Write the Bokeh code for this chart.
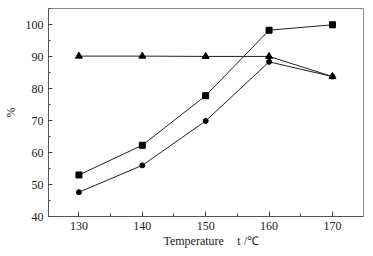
from bokeh.plotting import figure
from bokeh.embed import file_html
from bokeh.resources import INLINE
from bokeh.models import FixedTicker, LinearAxis, Range1d

temps = [130, 140, 150, 160, 170]
series_square = [53.0, 62.3, 77.8, 98.3, 100.0]
series_circle = [47.6, 56.0, 69.9, 88.4, 83.8]
series_triangle = [90.2, 90.2, 90.1, 90.1, 83.8]
x_ticks = [130, 140, 150, 160, 170]
x_minor = [125, 135, 145, 155, 165, 175]
y_ticks = [40, 50, 60, 70, 80, 90, 100]
y_minor = [45, 55, 65, 75, 85, 95, 105]
x_title_parts = ["Temperature", "t /℃"]
x_title_pos = [148.1, 156.7]
y_title = "%"

FONT = "Liberation Serif"
TXT = "#222222"

p = figure(width=373, height=256, output_backend="svg", toolbar_location=None,
           x_range=Range1d(125.2, 174.9), y_range=Range1d(40, 105.1),
           min_border_left=48, min_border_right=10, min_border_top=8, min_border_bottom=40)
p.xgrid.visible = False
p.ygrid.visible = False
p.outline_line_color = "#8a8a8a"
p.outline_line_width = 1
p.background_fill_color = "white"
p.border_fill_color = "white"

for ax in (p.xaxis[0], p.yaxis[0]):
    ax.axis_line_color = "#555555"
    ax.major_tick_line_color = "#444444"
    ax.minor_tick_line_color = "#444444"
    ax.major_tick_out = 0
    ax.minor_tick_out = 0
    ax.major_label_text_font = FONT
    ax.major_label_text_font_size = "12px"
    ax.major_label_text_color = TXT

p.xaxis.ticker = FixedTicker(ticks=x_ticks, minor_ticks=x_minor)
p.yaxis.ticker = FixedTicker(ticks=y_ticks, minor_ticks=y_minor)
p.xaxis.major_tick_in = 5
p.xaxis.minor_tick_in = 3
p.yaxis.major_tick_in = 4
p.yaxis.minor_tick_in = 2
p.xaxis.major_label_standoff = 5
p.yaxis.major_label_standoff = 5

p.yaxis.axis_label = y_title
p.yaxis.axis_label_text_font = FONT
p.yaxis.axis_label_text_font_style = "normal"
p.yaxis.axis_label_text_font_size = "12px"
p.yaxis.axis_label_text_color = TXT
p.yaxis.axis_label_standoff = 5

# x title drawn as tick labels of an extra, line-less axis below the main one
title_axis = LinearAxis(ticker=FixedTicker(ticks=x_title_pos, minor_ticks=[]),
                        major_label_overrides=dict(zip(x_title_pos, x_title_parts)),
                        axis_line_color=None, major_tick_line_color=None,
                        minor_tick_line_color=None, major_tick_in=0, major_tick_out=0,
                        major_label_standoff=1, major_label_text_font=FONT,
                        major_label_text_font_size="12px", major_label_text_color=TXT)
p.add_layout(title_axis, "below")

lc = "#222222"
p.line(temps, series_square, line_color=lc, line_width=1)
p.scatter(temps, series_square, marker="square", size=6, color="black")
p.line(temps, series_circle, line_color=lc, line_width=1)
p.scatter(temps, series_circle, marker="circle", size=5, color="black")
p.line(temps, series_triangle, line_color=lc, line_width=1)
p.scatter(temps, series_triangle, marker="triangle", size=7, color="black")

open("out.html", "w").write(file_html(p, INLINE))
